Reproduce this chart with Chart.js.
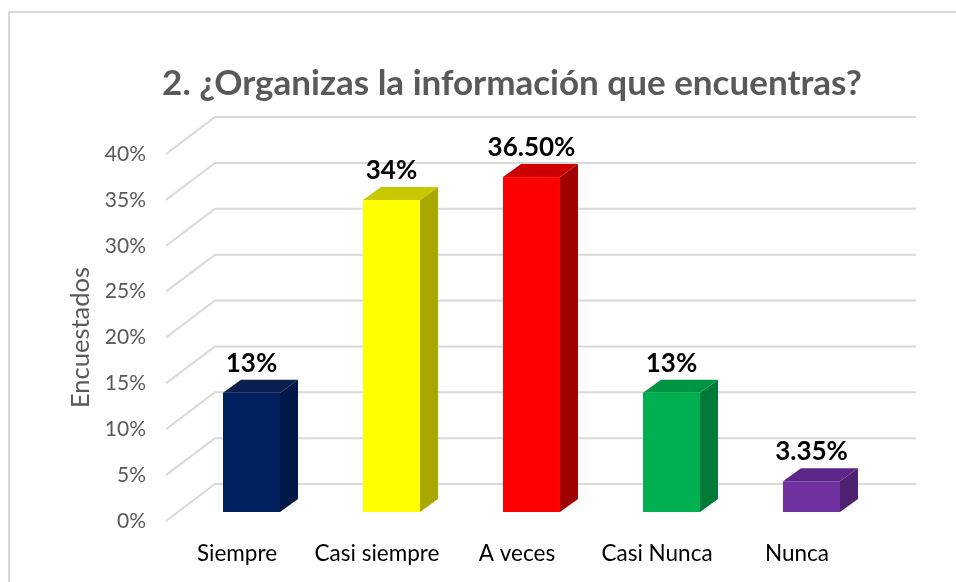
<!DOCTYPE html>
<html>
<head>
<meta charset="utf-8">
<script src="https://cdn.jsdelivr.net/npm/chart.js@4.4.1/dist/chart.umd.min.js"></script>
<style>
  body { margin: 0; background: #fff; }
  #wrap { width: 956px; height: 582px; }
</style>
</head>
<body>
<div id="wrap"><canvas id="barChart"></canvas></div>
<script>
const categories = ['Siempre', 'Casi siempre', 'A veces', 'Casi Nunca', 'Nunca'];
const values = [13, 34, 36.5, 13, 3.35];
const valueLabels = ['13%', '34%', '36.50%', '13%', '3.35%'];

const frontColors = ['#002060', '#FFFF00', '#FF0000', '#00B050', '#7030A0'];
const topColors = ['#0B1F4E', '#C8C800', '#CC0000', '#009544', '#5C2789'];
const sideColors = ['#001848', '#A8A800', '#A00000', '#007A37', '#4E2270'];

const titleText = '2. ¿Organizas la información que encuentras?';

// 3D look: front face shifted into the depth, bar depth, wall depth
const FACE_DX = 14.5, FACE_DY = -9;
const BAR_DX = 18, BAR_DY = -13;
const WALL_DX = 49, WALL_DY = -37;

const frame = {
  id: 'frame',
  beforeDraw(chart) {
    const ctx = chart.ctx;
    ctx.save();
    ctx.fillStyle = '#fff';
    ctx.fillRect(0, 0, chart.width, chart.height);
    ctx.strokeStyle = '#D9D9D9';
    ctx.lineWidth = 2;
    ctx.strokeRect(9, 12, chart.width + 20, chart.height + 20);
    ctx.fillStyle = '#595959';
    ctx.font = 'bold 35px Lato';
    ctx.textAlign = 'center';
    ctx.textBaseline = 'middle';
    ctx.fillText(titleText, 512, 84);
    ctx.restore();
  }
};

const wall = {
  id: 'wall',
  beforeDatasetsDraw(chart) {
    const ctx = chart.ctx;
    const y = chart.scales.y;
    const a = chart.chartArea;
    ctx.save();
    ctx.strokeStyle = '#D9D9D9';
    ctx.lineWidth = 2;
    y.ticks.forEach(t => {
      const py = y.getPixelForValue(t.value);
      ctx.beginPath();
      ctx.moveTo(a.left - 1, py);
      ctx.lineTo(a.left - 1 + WALL_DX, py + WALL_DY);
      ctx.lineTo(a.right + WALL_DX, py + WALL_DY);
      ctx.stroke();
    });
    ctx.restore();
  }
};

const bars3d = {
  id: 'bars3d',
  afterDatasetsDraw(chart) {
    const ctx = chart.ctx;
    const meta = chart.getDatasetMeta(0);
    ctx.save();
    meta.data.forEach((el, i) => {
      const x0 = el.x - el.width / 2 + FACE_DX;
      const x1 = x0 + el.width;
      const yt = el.y + FACE_DY;
      const yb = el.base + FACE_DY;
      // side
      ctx.fillStyle = sideColors[i];
      ctx.beginPath();
      ctx.moveTo(x1, yt);
      ctx.lineTo(x1 + BAR_DX, yt + BAR_DY);
      ctx.lineTo(x1 + BAR_DX, yb + BAR_DY);
      ctx.lineTo(x1, yb);
      ctx.closePath();
      ctx.fill();
      // top
      ctx.fillStyle = topColors[i];
      ctx.beginPath();
      ctx.moveTo(x0, yt);
      ctx.lineTo(x0 + BAR_DX, yt + BAR_DY);
      ctx.lineTo(x1 + BAR_DX, yt + BAR_DY);
      ctx.lineTo(x1, yt);
      ctx.closePath();
      ctx.fill();
      // front
      ctx.fillStyle = frontColors[i];
      ctx.fillRect(x0, yt, el.width, yb - yt);
      // value label
      ctx.fillStyle = '#000';
      ctx.font = 'bold 26px Lato';
      ctx.textAlign = 'center';
      ctx.textBaseline = 'alphabetic';
      ctx.fillText(valueLabels[i], (x0 + x1) / 2, yt + BAR_DY - 8);
    });
    ctx.restore();
  }
};

new Chart(document.getElementById('barChart').getContext('2d'), {
  type: 'bar',
  data: {
    labels: categories,
    datasets: [{
      label: 'Encuestados',
      data: values,
      backgroundColor: 'rgba(0,0,0,0)',
      barPercentage: 0.407,
      categoryPercentage: 1
    }]
  },
  options: {
    responsive: true,
    maintainAspectRatio: false,
    animation: false,
    layout: { padding: { top: 154, right: 89, bottom: 0, left: 0 } },
    plugins: {
      legend: { display: false },
      tooltip: { enabled: false },
      title: { display: false }
    },
    scales: {
      x: {
        grid: { display: false },
        border: { display: false },
        ticks: { color: '#000', font: { family: 'Lato', size: 22.5 }, padding: 11 },
        afterFit: s => { s.height = 61; }
      },
      y: {
        min: 0,
        max: 40,
        grid: { display: false },
        border: { display: false },
        ticks: {
          stepSize: 5,
          color: '#595959',
          font: { family: 'Lato', size: 21 },
          padding: 13,
          callback: v => v + '%'
        },
        title: {
          display: true,
          text: 'Encuestados',
          color: '#595959',
          font: { family: 'Lato', size: 25.5 },
          padding: { top: 65, bottom: 0 }
        },
        afterFit: s => { s.width = 167; }
      }
    }
  },
  plugins: [frame, wall, bars3d]
});
</script>
</body>
</html>
